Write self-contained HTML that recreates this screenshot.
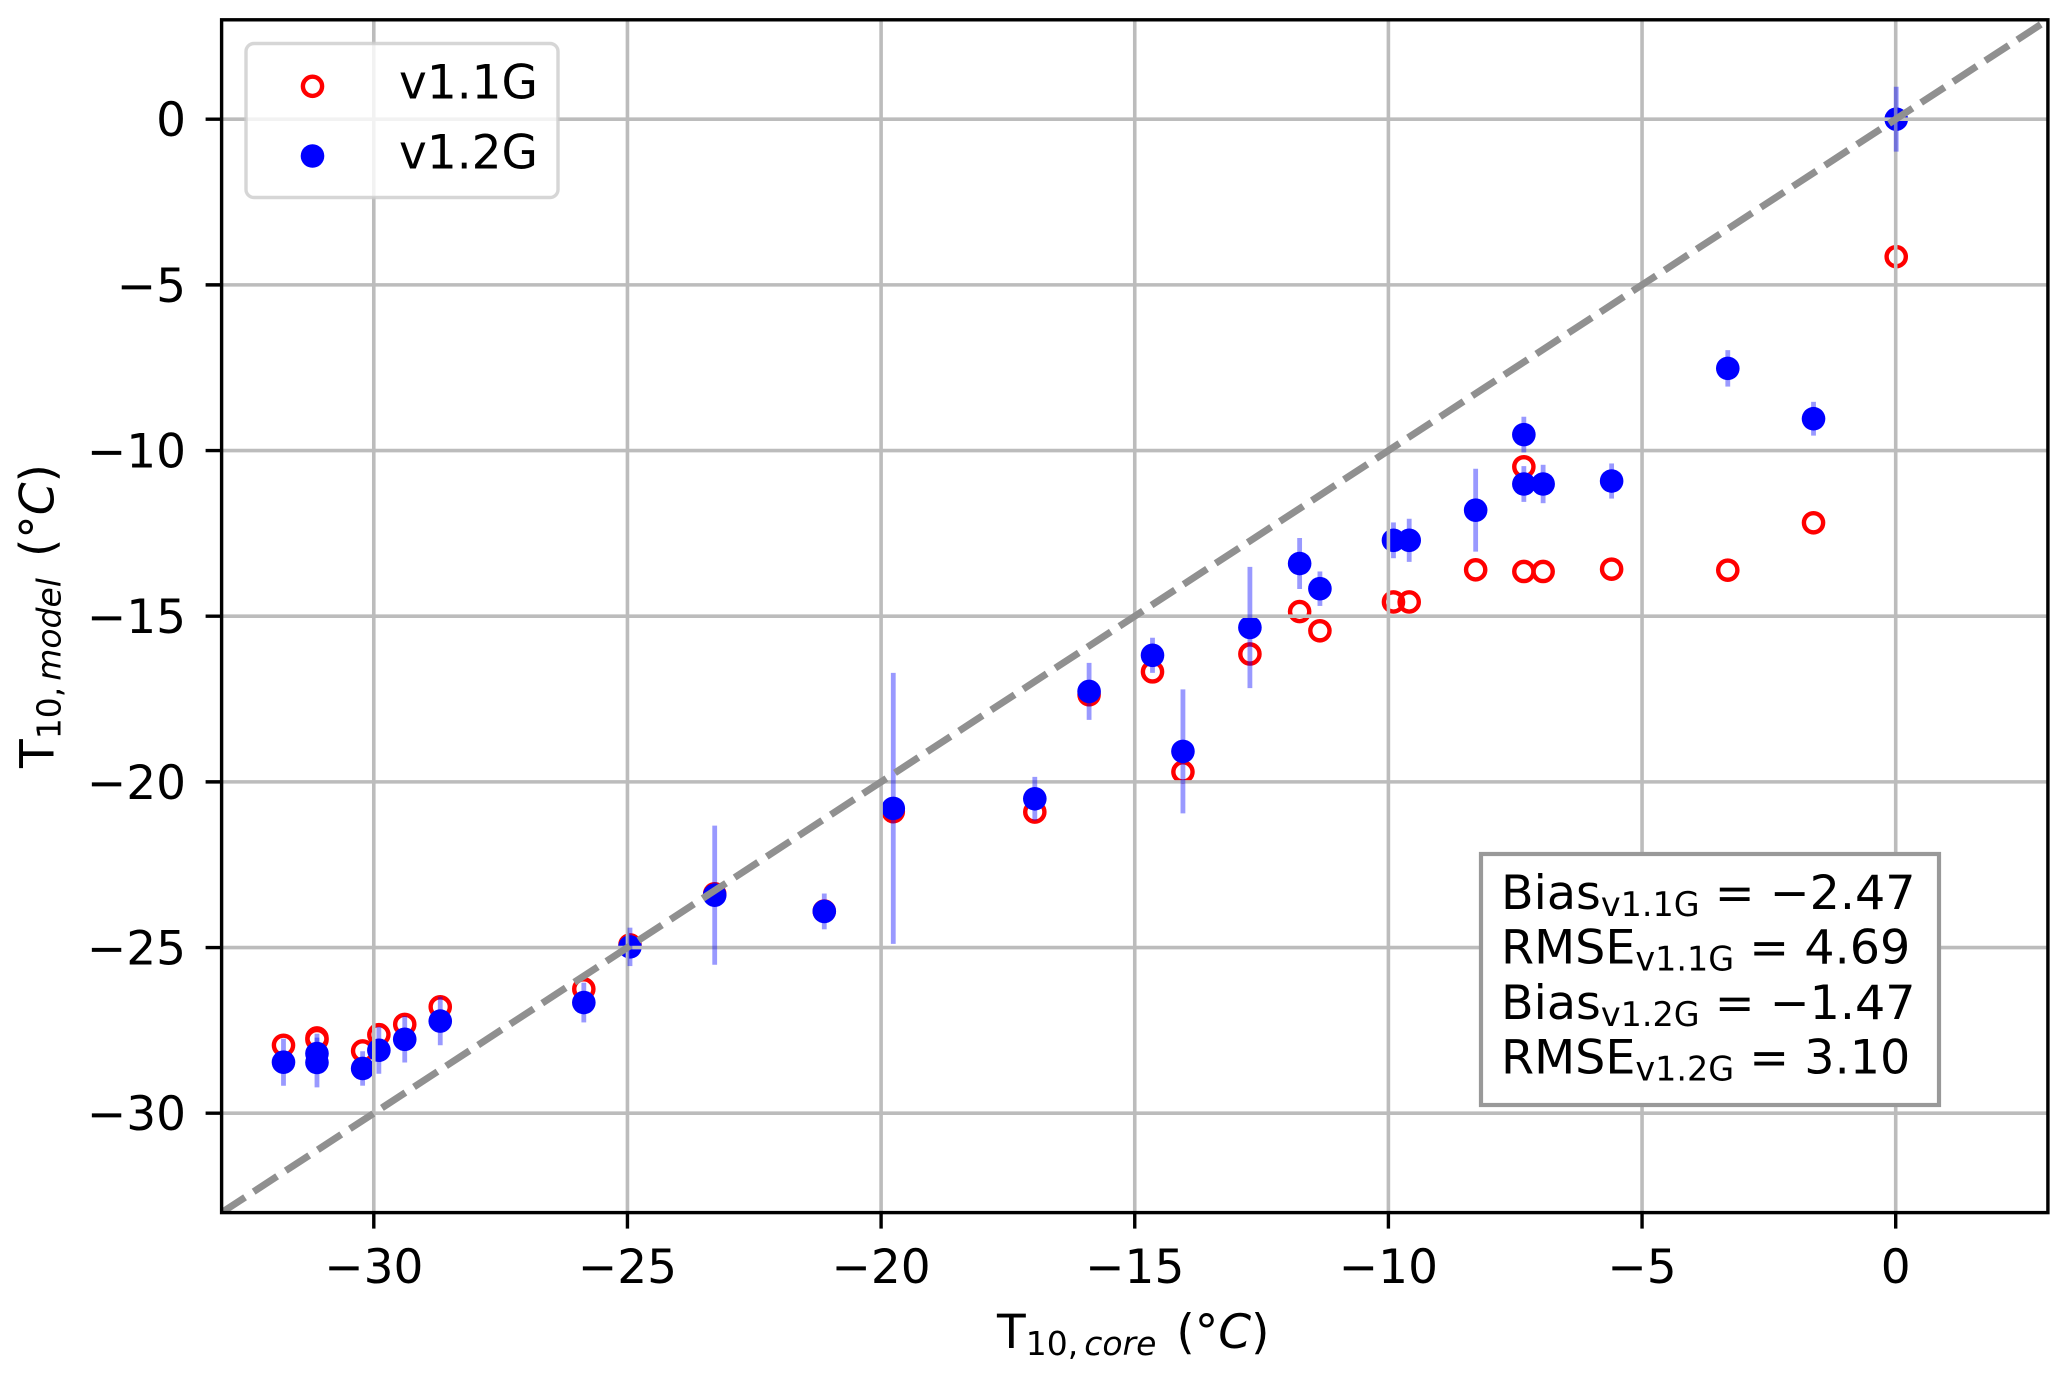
<!DOCTYPE html>
<html lang="en">
<head>
<meta charset="utf-8">
<title>T10 model vs core scatter</title>
<style>
  html, body { margin: 0; padding: 0; background: #fff; }
  svg { display: block; }
  text { font-family: "DejaVu Sans", "Liberation Sans", sans-serif; fill: #000; }
</style>
</head>
<body>
<svg id="chart" xmlns="http://www.w3.org/2000/svg" width="2067" height="1378" viewBox="0 0 2067 1378">
  <rect x="0" y="0" width="2067" height="1378" fill="#fff"/>
  <defs><clipPath id="plot-clip"><rect x="221.6" y="19.8" width="1826.3" height="1192.8"/></clipPath></defs>
  <g id="red-layer" clip-path="url(#plot-clip)"></g>
  <g id="blue-layer" clip-path="url(#plot-clip)"></g>
  <g id="grid-layer"></g>
  <g id="err-layer" clip-path="url(#plot-clip)"></g>
  <g id="ref-layer" clip-path="url(#plot-clip)"></g>
  <rect x="221.6" y="19.8" width="1826.3" height="1192.8" fill="none" stroke="#000" stroke-width="3.4"/>
  <g id="tick-layer"></g>

  <text x="997" y="1348" font-size="47">T<tspan dy="7" font-size="33">10,</tspan><tspan font-size="33" font-style="italic" dx="6">core</tspan><tspan dy="-7" dx="20">(°</tspan><tspan font-style="italic">C</tspan><tspan>)</tspan></text>
  <text transform="translate(53.5 768) rotate(-90)" x="0" y="0" font-size="47">T<tspan dy="7" font-size="33">10,</tspan><tspan font-size="33" font-style="italic" dx="6">model</tspan><tspan dy="-7" dx="21">(°</tspan><tspan font-style="italic">C</tspan><tspan>)</tspan></text>

  <g>
    <rect x="246" y="43.5" width="312" height="154" rx="8" ry="8" fill="#fff" fill-opacity="0.8" stroke="#ccc" stroke-opacity="0.8" stroke-width="3.4"/>
    <circle cx="312.5" cy="86.3" r="9.6" fill="none" stroke="#f00" stroke-width="4.4"/>
    <text x="399" y="98.3" font-size="47">v1.1G</text>
    <circle cx="312.5" cy="156" r="11.8" fill="#00f"/>
    <text x="399" y="168.3" font-size="47">v1.2G</text>
  </g>

  <g>
    <rect x="1481" y="854" width="458" height="251" fill="#fff" stroke="#999" stroke-width="4.2"/>
    <text x="1501" y="909" font-size="47.6">Bias<tspan dy="7" font-size="33.4">v1.1G</tspan><tspan dy="-7"> = −2.47</tspan></text>
    <text x="1501" y="963.5" font-size="47.6">RMSE<tspan dy="7" font-size="33.4">v1.1G</tspan><tspan dy="-7"> = 4.69</tspan></text>
    <text x="1501" y="1019" font-size="47.6">Bias<tspan dy="7" font-size="33.4">v1.2G</tspan><tspan dy="-7"> = −1.47</tspan></text>
    <text x="1501" y="1073.5" font-size="47.6">RMSE<tspan dy="7" font-size="33.4">v1.2G</tspan><tspan dy="-7"> = 3.10</tspan></text>
  </g>
</svg>
<script>
const xTickValues = [-30, -25, -20, -15, -10, -5, 0];
const yTickValues = [-30, -25, -20, -15, -10, -5, 0];
const xLimits = [-33, 3];
const yLimits = [-33, 3];
const coreTemps = [-31.78, -31.12, -31.12, -30.22, -29.9, -29.39, -28.69, -25.86, -24.95, -23.28, -21.12, -19.76, -16.97, -15.9, -14.65, -14.05, -12.73, -11.75, -11.35, -9.9, -9.59, -8.28, -7.33, -7.33, -6.95, -5.6, -3.31, -1.62, 0.01];
const modelV11 = [-27.95, -27.73, -27.78, -28.12, -27.63, -27.32, -26.79, -26.25, -24.92, -23.38, -23.9, -20.9, -20.91, -17.37, -16.68, -19.7, -16.14, -14.86, -15.44, -14.57, -14.57, -13.6, -10.49, -13.65, -13.65, -13.58, -13.61, -12.18, -4.15];
const modelV12 = [-28.46, -28.2, -28.47, -28.65, -28.1, -27.77, -27.22, -26.66, -24.98, -23.42, -23.91, -20.8, -20.51, -17.27, -16.18, -19.08, -15.34, -13.41, -14.17, -12.71, -12.71, -11.8, -9.52, -11.01, -11.01, -10.92, -7.52, -9.04, 0];
const errorV12 = [0.71, 0.6, 0.75, 0.52, 0.71, 0.7, 0.73, 0.6, 0.58, 2.1, 0.54, 4.09, 0.66, 0.86, 0.53, 1.87, 1.83, 0.77, 0.52, 0.54, 0.65, 1.25, 0.54, 0.54, 0.58, 0.53, 0.55, 0.51, 0.98];

const NS = 'http://www.w3.org/2000/svg';
const plot = { left: 221.6, right: 2047.9, top: 19.8, bottom: 1212.6 };
function xScale(v) { return plot.left + (v - xLimits[0]) / (xLimits[1] - xLimits[0]) * (plot.right - plot.left); }
function yScale(v) { return plot.bottom - (v - yLimits[0]) / (yLimits[1] - yLimits[0]) * (plot.bottom - plot.top); }
function make(tag, attrs, parent) {
  const el = document.createElementNS(NS, tag);
  for (const k in attrs) el.setAttribute(k, attrs[k]);
  parent.appendChild(el);
  return el;
}
function label(v) { return v < 0 ? '\u2212' + Math.abs(v) : String(v); }

const redLayer = document.getElementById('red-layer');
const blueLayer = document.getElementById('blue-layer');
const gridLayer = document.getElementById('grid-layer');
const errLayer = document.getElementById('err-layer');
const refLayer = document.getElementById('ref-layer');
const tickLayer = document.getElementById('tick-layer');

coreTemps.forEach(function (t, i) {
  const ring = make('circle', { cx: xScale(t), cy: yScale(modelV11[i]), r: 9.6, fill: 'none', stroke: '#f00', 'stroke-width': 4.4 }, redLayer);
  
  
  const dot = make('circle', { cx: xScale(t), cy: yScale(modelV12[i]), r: 11.8, fill: '#00f' }, blueLayer);
  
  
  const err = make('line', { x1: xScale(t), x2: xScale(t), y1: yScale(modelV12[i] + errorV12[i]), y2: yScale(modelV12[i] - errorV12[i]), stroke: '#00f', 'stroke-opacity': 0.4, 'stroke-width': 4.8 }, errLayer);
  
  
});

xTickValues.forEach(function (v) {
  const g = make('line', { x1: xScale(v), x2: xScale(v), y1: plot.top, y2: plot.bottom, stroke: '#bcbcbc', 'stroke-width': 3.6 }, gridLayer);
  
  
  const t = make('line', { x1: xScale(v), x2: xScale(v), y1: plot.bottom, y2: plot.bottom + 16, stroke: '#000', 'stroke-width': 3.4 }, tickLayer);
  
  
  const txt = make('text', { x: xScale(v), y: 1283, 'font-size': 47, 'text-anchor': 'middle' }, tickLayer);
  txt.textContent = label(v);
  
  
});

yTickValues.forEach(function (v) {
  const g = make('line', { x1: plot.left, x2: plot.right, y1: yScale(v), y2: yScale(v), stroke: '#bcbcbc', 'stroke-width': 3.6 }, gridLayer);
  
  
  const t = make('line', { x1: plot.left - 16, x2: plot.left, y1: yScale(v), y2: yScale(v), stroke: '#000', 'stroke-width': 3.4 }, tickLayer);
  
  
  const txt = make('text', { x: 186, y: yScale(v) + 17, 'font-size': 47, 'text-anchor': 'end' }, tickLayer);
  txt.textContent = label(v);
  
  
});

const refLine = make('line', { x1: xScale(xLimits[0]), y1: yScale(yLimits[0]), x2: xScale(xLimits[1]), y2: yScale(yLimits[1]), stroke: '#909090', 'stroke-width': 7, 'stroke-dasharray': '28 10.3' }, refLayer);


</script>
</body>
</html>
